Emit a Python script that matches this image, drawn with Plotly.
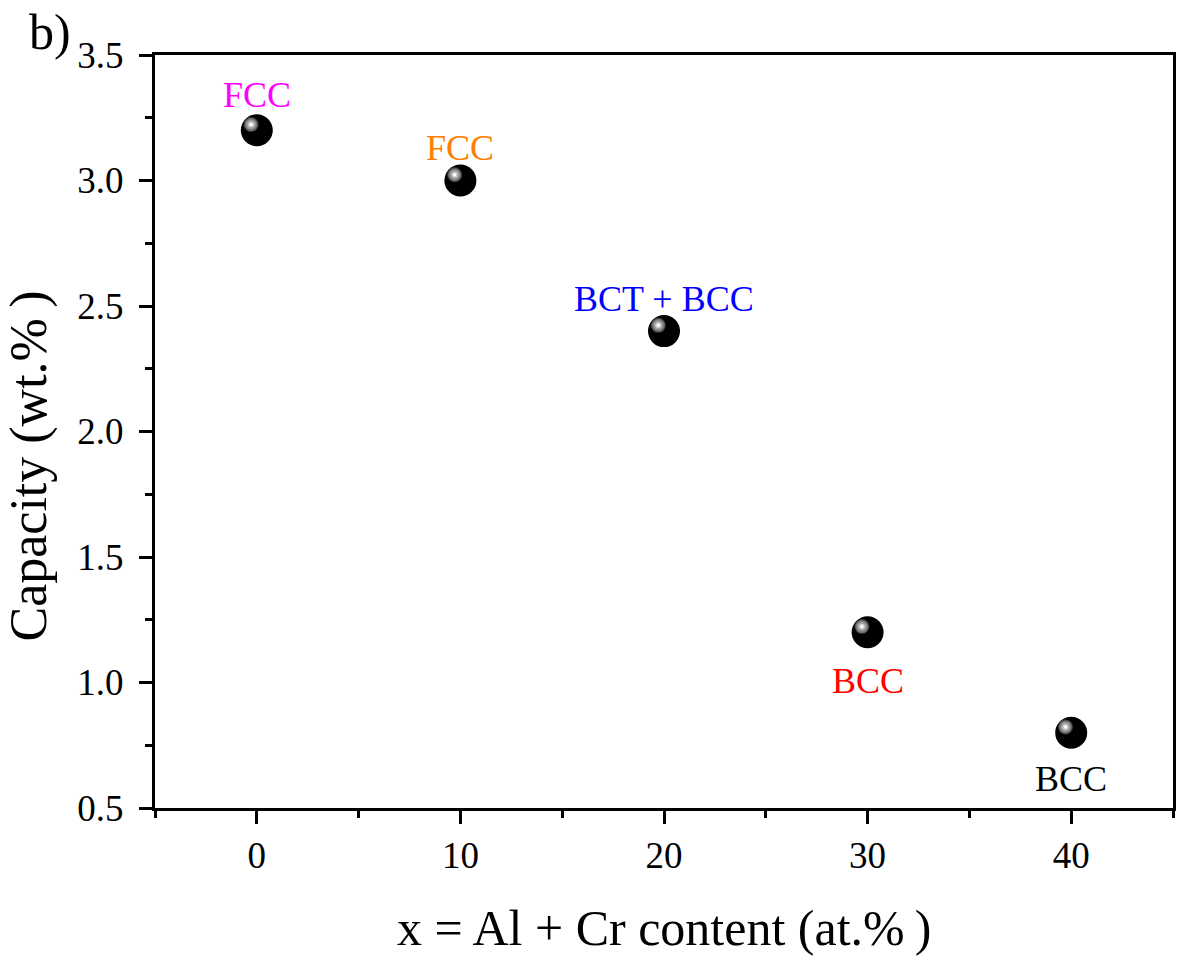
import plotly.graph_objects as go

# Al + Cr content (at.%) and hydrogen storage capacity (wt.%)
content = [0, 10, 20, 30, 40]
capacity = [3.2, 3.0, 2.4, 1.2, 0.8]
phases = ["FCC", "FCC", "BCT + BCC", "BCC", "BCC"]
phase_colors = ["#ff00ff", "#ff8000", "#0000ff", "#ff0000", "#000000"]
label_shift = [35, 33, 32, -49, -46]

FONT = "Liberation Serif"

fig = go.Figure()

# sphere body
fig.add_trace(go.Scatter(
    x=content, y=capacity, mode="markers",
    marker=dict(size=32, color="black", line=dict(width=0)),
    hoverinfo="skip", showlegend=False))

# specular highlight, nudged up-left of each sphere centre
hx = [v - 0.28 for v in content]
hy = [v + 0.023 for v in capacity]
for size, col in [(15, "#3c3c3c"), (13, "#707070"), (10, "#9c9c9c"), (6, "#cfcfcf"), (3, "#ffffff")]:
    fig.add_trace(go.Scatter(
        x=hx, y=hy, mode="markers",
        marker=dict(size=size, color=col, line=dict(width=0)),
        hoverinfo="skip", showlegend=False))

for xv, yv, txt, col, sh in zip(content, capacity, phases, phase_colors, label_shift):
    fig.add_annotation(x=xv, y=yv, text=txt, showarrow=False, yshift=sh,
                       font=dict(family=FONT, size=36, color=col))

fig.add_annotation(xref="paper", yref="paper", x=-0.103, y=1.03, text="b)",
                   showarrow=False, xanchor="center", yanchor="middle",
                   font=dict(family=FONT, size=50, color="black"))

# axis titles
fig.add_annotation(xref="paper", yref="paper", x=0.5, y=-0.159,
                   text="x = Al + Cr content (at.%\u2009)", showarrow=False,
                   xanchor="center", yanchor="middle",
                   font=dict(family=FONT, size=50, color="black"))
fig.add_annotation(xref="paper", yref="paper", x=-0.1234, y=0.454,
                   text="Capacity (wt.%\u2009)", showarrow=False, textangle=-90,
                   xanchor="center", yanchor="middle",
                   font=dict(family=FONT, size=52, color="black"))

axis_common = dict(
    showline=True, linewidth=3, linecolor="black", mirror=True,
    ticks="outside", ticklen=13, tickwidth=2.5, tickcolor="black",
    showgrid=False, zeroline=False,
    tickfont=dict(family=FONT, size=37, color="black"),
)

fig.update_xaxes(
    range=[-5, 45], tickvals=[0, 10, 20, 30, 40],
    minor=dict(ticks="outside", ticklen=7, tickwidth=2.5, tickcolor="black",
               tickvals=[-5, 5, 15, 25, 35, 45]),
    ticklabelstandoff=0,
    **axis_common)

fig.update_yaxes(
    range=[0.5, 3.5], tickvals=[0.5, 1.0, 1.5, 2.0, 2.5, 3.0, 3.5],
    ticktext=["0.5", "1.0", "1.5", "2.0", "2.5", "3.0", "3.5"],
    minor=dict(ticks="outside", ticklen=7, tickwidth=2.5, tickcolor="black",
               tickvals=[0.75, 1.25, 1.75, 2.25, 2.75, 3.25]),
    ticklabelstandoff=8,
    **axis_common)

fig.update_layout(
    width=1178, height=956,
    margin=dict(l=155, r=2, t=55, b=148),
    plot_bgcolor="white", paper_bgcolor="white",
)

fig.write_html("out.html")
